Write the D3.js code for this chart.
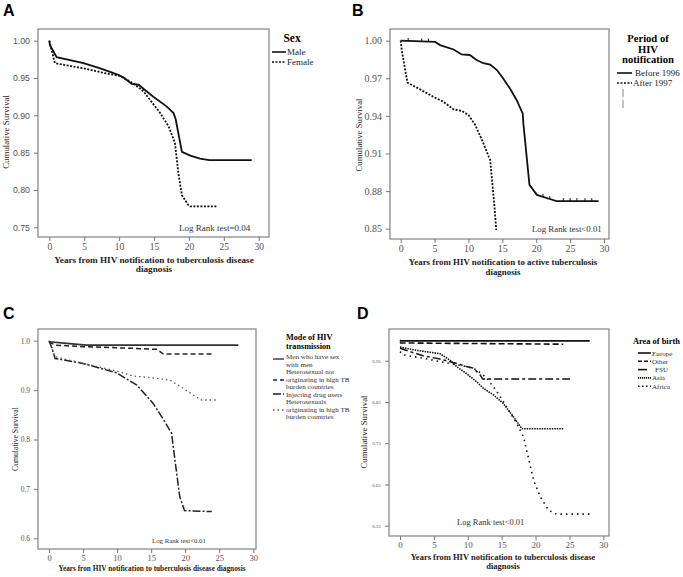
<!DOCTYPE html>
<html><head><meta charset="utf-8">
<script src="https://cdn.jsdelivr.net/npm/d3@7"></script>
<style>body{margin:0;background:#fff}svg{display:block}</style>
</head><body>
<script>
// ---------- DATA ----------
const xTicks = [0, 5, 10, 15, 20, 25, 30];
// Panel A
const aYTicks = [0.75, 0.80, 0.85, 0.90, 0.95, 1.00];
const aMale = [[0,1.0],[0.1,0.994],[1.05,0.978],[4.9,0.970],[7.3,0.963],[9.7,0.955],[10.6,0.951],[11.8,0.942],[12.8,0.941],[13.7,0.934],[14.9,0.925],[16.8,0.912],[17.8,0.903],[18.1,0.895],[19.0,0.851],[20.2,0.846],[21.6,0.842],[22.9,0.840],[29.0,0.840]];
const aFemale = [[0,1.0],[0.2,0.992],[0.8,0.970],[1.3,0.969],[4.9,0.963],[8.2,0.956],[10.1,0.953],[12.0,0.943],[13.5,0.932],[14.9,0.915],[15.9,0.903],[17.1,0.885],[18.0,0.863],[18.5,0.822],[19.0,0.793],[19.9,0.780],[20.2,0.778],[24.0,0.778]];
// Panel B
const bYTicks = [0.85, 0.88, 0.91, 0.94, 0.97, 1.00];
const bBefore = [[0,1.0],[5.1,0.999],[5.8,0.9965],[7.8,0.993],[9.0,0.989],[10.2,0.9886],[11.2,0.9846],[12.2,0.982],[13.2,0.981],[14.2,0.9766],[15.1,0.970],[16.1,0.962],[17.1,0.9527],[18.0,0.942],[18.1,0.934],[19.0,0.885],[20.1,0.877],[22.0,0.8737],[23.0,0.872],[29.2,0.872]];
const bAfter = [[0,1.0],[0.15,0.9926],[1.0,0.9665],[2.85,0.9612],[4.8,0.9553],[6.3,0.9513],[7.8,0.9452],[9.0,0.944],[10.0,0.9407],[11.0,0.9327],[12.0,0.9207],[13.0,0.9074],[13.2,0.905],[13.8,0.870],[14.1,0.849]];
const bCensor = [1.1, 3.1, 4.1, 21.0, 22.0, 24.0, 25.0, 26.0, 27.2, 28.2];
// Panel C
const cYTicks = [0.6, 0.7, 0.8, 0.9, 1.0];
const cMSM = [[0,0.998],[2.6,0.9946],[5.5,0.991],[27.8,0.991]];
const cHetNot = [[0,0.998],[0.9,0.991],[5,0.988],[12.4,0.9845],[15.8,0.9825],[16.3,0.978],[16.8,0.973],[23.9,0.973]];
const cIDU = [[0,1.0],[0.3,0.990],[0.9,0.964],[5,0.954],[9.9,0.935],[12.9,0.910],[15.3,0.873],[17.0,0.836],[18.0,0.8125],[18.5,0.758],[19.2,0.684],[19.9,0.656],[23.9,0.654]];
const cHetHigh = [[0,1.0],[0.9,0.9676],[5,0.954],[9.9,0.9386],[12.4,0.9285],[15.8,0.924],[17.8,0.920],[19.2,0.908],[21.2,0.890],[22.4,0.880],[24.6,0.880]];
// Panel D
const dYTicks = [0.55, 0.65, 0.75, 0.85, 0.95];
const dEurope = [[0,1.0],[0.1,0.998],[28.0,0.998]];
const dOther = [[0,0.995],[0.1,0.993],[24.1,0.990]];
const dFSU = [[0,0.98],[3.4,0.962],[5.9,0.954],[8.4,0.943],[9.8,0.936],[10.8,0.932],[11.8,0.916],[12.2,0.9055],[25.1,0.9055]];
const dAsia = [[0,0.983],[2.5,0.975],[5.9,0.967],[7.4,0.951],[8.4,0.935],[9.8,0.919],[11.3,0.899],[12.3,0.883],[13.8,0.867],[15.2,0.847],[16.7,0.815],[18.0,0.785],[24.1,0.785]];
const dAfrica = [[0,0.972],[0.5,0.964],[3.4,0.956],[7.4,0.943],[9.8,0.936],[11.3,0.928],[12.8,0.908],[14.3,0.875],[15.7,0.839],[17.2,0.799],[18.2,0.766],[18.9,0.718],[19.7,0.661],[20.7,0.620],[21.9,0.588],[23.1,0.578],[28.5,0.578]];

// ---------- DRAW ----------
const W = 683, H = 577;
const svg = d3.select("body").append("svg").attr("width", W).attr("height", H);
const SERIF = "'Liberation Serif','Times New Roman',serif";
const SANS = "'Liberation Sans',Arial,sans-serif";

function panel(o) {
  const g = svg.append("g");
  const x = d3.scaleLinear().domain([0, 30]).range(o.xr);
  const y = d3.scaleLinear().domain(o.yd).range(o.yr);
  g.append("rect").attr("x", o.fx[0]).attr("y", o.fy[0])
    .attr("width", o.fx[1] - o.fx[0]).attr("height", o.fy[1] - o.fy[0])
    .attr("fill", "none").attr("stroke", "#8c8c8c").attr("stroke-width", 1.3);
  const ya = d3.axisLeft(y).tickValues(o.yTicks).tickSize(4).tickFormat(o.yFmt);
  const yg = g.append("g").attr("transform", `translate(${o.fx[0]},0)`).call(ya);
  yg.select(".domain").remove();
  yg.selectAll("line").attr("stroke", "#777");
  yg.selectAll("text").attr("fill", "#555").attr("font-family", o.yFont).attr("font-size", o.yfs).attr("dx", "-1");
  const xa = d3.axisBottom(x).tickValues(xTicks).tickSize(4).tickFormat(d3.format("d"));
  const xg = g.append("g").attr("transform", `translate(0,${o.fy[1]})`).call(xa);
  xg.select(".domain").remove();
  xg.selectAll("line").attr("stroke", "#777");
  xg.selectAll("text").attr("fill", "#555").attr("font-family", SERIF).attr("font-size", o.xfs).attr("dy", o.xdy);
  const line = d3.line().x(d => x(d[0])).y(d => y(d[1]));
  o.series.forEach(s => {
    g.append("path").attr("d", line(s.data)).attr("fill", "none")
      .attr("stroke", s.color || "#111").attr("stroke-width", s.w || 1.6)
      .attr("stroke-dasharray", s.dash || null);
  });
  g.append("text").attr("transform", `translate(${o.ytPos[0]},${o.ytPos[1]}) rotate(-90)`)
    .attr("text-anchor", "middle").attr("dominant-baseline", "middle")
    .attr("font-family", SERIF).attr("font-size", o.ytfs).attr("fill", "#222").text("Cumulative Survival");
  o.xt.forEach((t, i) => {
    g.append("text").attr("x", o.xtPos[0]).attr("y", o.xtPos[1] + i * o.xtLh)
      .attr("text-anchor", "middle").attr("font-family", SERIF).attr("font-weight", "bold")
      .attr("font-size", o.xtfs).attr("fill", "#222").text(t);
  });
  g.append("text").attr("x", o.lr[0]).attr("y", o.lr[1]).attr("font-family", SERIF)
    .attr("font-size", o.lrfs).attr("fill", "#333").text(o.lrText);
  g.append("text").attr("x", o.letterPos[0]).attr("y", o.letterPos[1]).attr("font-family", SANS)
    .attr("font-weight", "bold").attr("font-size", 16).attr("fill", "#000").text(o.letter);
  return { g, x, y };
}

// Panel A
panel({
  letter: "A", letterPos: [3, 16],
  xr: [49.3, 258.7], yd: [0.75, 1.0], yr: [227.3, 40.7], fx: [38, 269], fy: [29, 237],
  yTicks: aYTicks, yFmt: d3.format(".2f"), yFont: SANS, yfs: 8.8, xfs: 9.5, xdy: "0.6em",
  series: [{ data: aMale, w: 1.8 }, { data: aFemale, dash: "2,1.5", w: 1.8 }],
  ytPos: [7, 132], ytfs: 8.9,
  xt: ["Years from HIV notification to tuberculosis disease", "diagnosis"], xtPos: [154, 263], xtLh: 9, xtfs: 9.2,
  lr: [179, 231], lrfs: 9, lrText: "Log Rank test=0.04"
});
svg.append("text").attr("x", 292).attr("y", 42).attr("text-anchor", "middle").attr("font-family", SERIF)
  .attr("font-weight", "bold").attr("font-size", 11.5).text("Sex");
[["Male", null], ["Female", "2,1.5"]].forEach((d, i) => {
  const yy = 52 + i * 10;
  svg.append("line").attr("x1", 272).attr("x2", 286).attr("y1", yy).attr("y2", yy)
    .attr("stroke", "#111").attr("stroke-width", 1.6).attr("stroke-dasharray", d[1]);
  svg.append("text").attr("x", 287).attr("y", yy + 3.2).attr("font-family", SERIF).attr("font-size", 9).attr("fill", "#222").text(d[0]);
});

// Panel B
const pB = panel({
  letter: "B", letterPos: [352, 16],
  xr: [400.7, 604], yd: [0.85, 1.0], yr: [228.7, 40.7], fx: [390, 609], fy: [29, 239],
  yTicks: bYTicks, yFmt: d3.format(".2f"), yFont: SERIF, yfs: 10, xfs: 10, xdy: "0.6em",
  series: [{ data: bBefore, w: 1.8 }, { data: bAfter, dash: "2,1.5", w: 1.8 }],
  ytPos: [360, 135], ytfs: 8.8,
  xt: ["Years from HIV notification to active tuberculosis", "diagnosis"], xtPos: [503, 265], xtLh: 9.5, xtfs: 8.9,
  lr: [532, 232], lrfs: 8.8, lrText: "Log Rank test<0.01"
});
const bLineY = xv => {
  for (let i = 1; i < bBefore.length; i++) {
    if (xv <= bBefore[i][0]) {
      const a = bBefore[i - 1], b = bBefore[i];
      return a[1] + (b[1] - a[1]) * (xv - a[0]) / (b[0] - a[0]);
    }
  }
  return bBefore[bBefore.length - 1][1];
};
bCensor.forEach(c => {
  const px = pB.x(c), py = pB.y(bLineY(c));
  svg.append("line").attr("x1", px).attr("x2", px).attr("y1", py - 3).attr("y2", py)
    .attr("stroke", "#111").attr("stroke-width", 1);
});
["Period of", "HIV", "notification"].forEach((t, i) => {
  svg.append("text").attr("x", 648).attr("y", 42 + i * 10.5).attr("text-anchor", "middle").attr("font-family", SERIF)
    .attr("font-weight", "bold").attr("font-size", 10.6).text(t);
});
[["Before 1996", null, 635], ["After 1997", "2,1.5", 633]].forEach((d, i) => {
  const yy = 73 + i * 10;
  svg.append("line").attr("x1", 617).attr("x2", 632).attr("y1", yy).attr("y2", yy)
    .attr("stroke", "#111").attr("stroke-width", 1.6).attr("stroke-dasharray", d[1]);
  svg.append("text").attr("x", d[2]).attr("y", yy + 3.2).attr("font-family", SERIF).attr("font-size", 9).attr("fill", "#222").text(d[0]);
});
[[89, 97], [100, 108]].forEach(s => {
  svg.append("line").attr("x1", 623).attr("x2", 623).attr("y1", s[0]).attr("y2", s[1]).attr("stroke", "#666").attr("stroke-width", 0.8);
});

// Panel C
panel({
  letter: "C", letterPos: [3, 319],
  xr: [49, 253.3], yd: [0.6, 1.0], yr: [538.3, 340.7], fx: [38, 256], fy: [329, 549],
  yTicks: cYTicks, yFmt: d3.format(".1f"), yFont: SERIF, yfs: 7.5, xfs: 8.5, xdy: "0.55em",
  series: [
    { data: cMSM, color: "#333", w: 1.6 },
    { data: cHetNot, color: "#222", w: 1.5, dash: "5,3" },
    { data: cIDU, color: "#222", w: 1.5, dash: "8,2,2,2" },
    { data: cHetHigh, color: "#6e4a70", w: 1.3, dash: "1.5,3" }
  ],
  ytPos: [16, 439], ytfs: 7.7,
  xt: ["Years fron HIV notification to tuberculosis disease diagnosis"], xtPos: [152, 571], xtLh: 9, xtfs: 7.3,
  lr: [152, 543], lrfs: 6.8, lrText: "Log Rank test<0.01"
});
["Mode of HIV", "transmission"].forEach((t, i) => {
  svg.append("text").attr("x", 286).attr("y", 339.5 + i * 9.2).attr("font-family", SERIF)
    .attr("font-weight", "bold").attr("font-size", 8.2).text(t);
});
const cLeg = [
  { lines: ["Men who have sex", "with men"], y0: 357, ly: 359, dash: null, color: "#333" },
  { lines: ["Heterosexual not", "originating in high TB", "burden countries"], y0: 372, ly: 380, dash: "4,3", color: "#222" },
  { lines: ["Injecting drug users"], y0: 394.5, ly: 394, dash: "8,2,2,2", color: "#222" },
  { lines: ["Heterosexuals", "originating in high TB", "burden countries"], y0: 402, ly: 410, dash: "1.5,3", color: "#6e4a70" }
];
cLeg.forEach(d => {
  d.lines.forEach((t, i) => {
    svg.append("text").attr("x", 286).attr("y", d.y0 + i * 7.5 + 2.3).attr("font-family", SERIF)
      .attr("font-size", 7.1).attr("fill", "#333").text(t);
  });
  svg.append("line").attr("x1", 273).attr("x2", 284).attr("y1", d.ly).attr("y2", d.ly)
    .attr("stroke", d.color).attr("stroke-width", 1.4).attr("stroke-dasharray", d.dash);
});

// Panel D
panel({
  letter: "D", letterPos: [357, 319],
  xr: [400, 603.3], yd: [0.55, 0.95], yr: [525.7, 360.7], fx: [389, 609], fy: [329, 536],
  yTicks: dYTicks, yFmt: d3.format(".2f"), yFont: SERIF, yfs: 5, xfs: 9, xdy: "0.55em",
  series: [
    { data: dEurope, w: 1.8 },
    { data: dOther, w: 1.6, dash: "6,3" },
    { data: dFSU, w: 1.5, dash: "8,3,3,3" },
    { data: dAsia, w: 1.6, dash: "1.5,1" },
    { data: dAfrica, w: 1.6, dash: "1.5,4" }
  ],
  ytPos: [365, 432], ytfs: 8.8,
  xt: ["Years from HIV notification to tuberculosis disease", "diagnosis"], xtPos: [503, 560], xtLh: 9, xtfs: 8.5,
  lr: [457, 525], lrfs: 8.5, lrText: "Log Rank test<0.01"
});
svg.append("text").attr("x", 633).attr("y", 344).attr("font-family", SERIF)
  .attr("font-weight", "bold").attr("font-size", 8.4).text("Area of birth");
[["Europe", null], ["Other", "4,2"], ["FSU", null], ["Asia", "1.2,0.8"], ["Africa", "1.5,2.5"]].forEach((d, i) => {
  const yy = 353 + i * 8.3;
  const short = d[0] === "FSU";
  svg.append("line").attr("x1", 638).attr("x2", short ? 647 : 651).attr("y1", yy).attr("y2", yy)
    .attr("stroke", "#111").attr("stroke-width", 1.6).attr("stroke-dasharray", d[1]);
  svg.append("text").attr("x", short ? 655 : 652).attr("y", yy + 2.5).attr("font-family", SERIF)
    .attr("font-size", 7.1).attr("fill", "#333").text(d[0]);
});
</script>
</body></html>
